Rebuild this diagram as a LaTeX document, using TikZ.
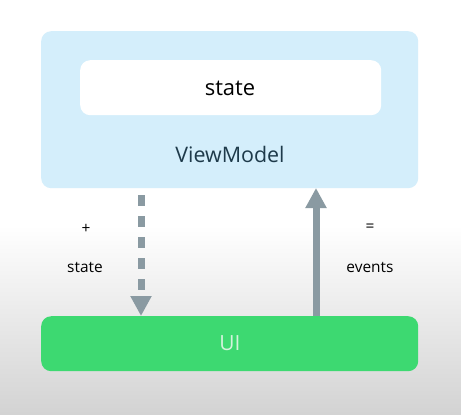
\documentclass[tikz,border=0pt]{standalone}
\usepackage{fontspec}
\setmainfont{Open Sans}
\usetikzlibrary{arrows.meta}
\definecolor{vmblue}{HTML}{D4EEFB}
\definecolor{vmtext}{HTML}{1E3A4A}
\definecolor{uigreen}{HTML}{3DD971}
\definecolor{uitext}{HTML}{D3F3DC}
\definecolor{arrowgray}{HTML}{8A9AA2}
\definecolor{bggray}{HTML}{D3D3D3}
\begin{document}
\begin{tikzpicture}[x=1bp,y=-1bp,
  box/.style={rounded corners=10bp, inner sep=0pt, anchor=north west},
  lbl/.style={font=\fontsize{15.5}{18}\selectfont, text=black},
  flow/.style={draw=arrowgray, line width=7bp, -{Triangle[length=20bp,width=20bp]}}]
\useasboundingbox (0,0) rectangle (461,414);
\fill[white] (0,0) rectangle (461,225);
\shade[top color=white, bottom color=bggray] (0,225) rectangle (461,414);
\node[box, fill=vmblue, minimum width=377bp, minimum height=157bp] (vm) at (41,31) {};
\node[box, fill=white, minimum width=301bp, minimum height=55bp] (st) at (80,60) {};
\node[font=\fontsize{22}{26}\selectfont, text=black] (sttext) at (230,88) {state};
\node[font=\fontsize{21.5}{26}\selectfont, text=vmtext] (vmtext) at (230,154) {ViewModel};
\node[box, fill=uigreen, minimum width=377bp, minimum height=55bp] (ui) at (41,316) {};
\node[font=\fontsize{21}{25}\selectfont, text=uitext] (uitext) at (230,343) {UI};
\coordinate (dtop) at (141,195);
\coordinate (dbot) at (141,316);
\coordinate (ubot) at (316,316);
\coordinate (utop) at (316,188);
\draw[flow, dash pattern=on 11bp off 10bp] (dtop) -- (dbot);
\draw[flow] (ubot) -- (utop);
\node[lbl] (plus) at (86,229) {+};
\node[lbl] (stlbl) at (85,267) {state};
\node[lbl] (eq) at (370,228) {=};
\node[lbl] (ev) at (370,267) {events};
\end{tikzpicture}
\end{document}
